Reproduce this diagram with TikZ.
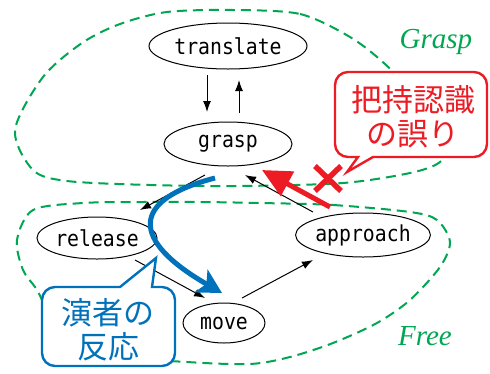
\documentclass[tikz,border=0pt]{standalone}
\usepackage{fontspec}
\setmainfont{Liberation Serif}
\newfontfamily\statefont[FakeStretch=0.9]{DejaVu Sans Mono}
\newfontfamily\jpfont{Noto Sans CJK JP}
\usepackage{tikz}
\usetikzlibrary{arrows.meta, shapes.geometric}

\definecolor{zonegreen}{RGB}{0,166,81}
\definecolor{callred}{RGB}{237,28,36}
\definecolor{callblue}{RGB}{0,114,188}

\tikzset{
  state/.style={draw, ellipse, fill=white, line width=1pt, inner sep=0pt,
    font=\statefont\fontsize{22}{22}\selectfont},
  link/.style={-{Latex[length=11pt,width=8pt]}, line width=1pt},
  zone/.style={zonegreen, dash pattern=on 10pt off 6pt, line width=2pt},
  zonelabel/.style={zonegreen, font=\itshape\fontsize{29}{29}\selectfont},
  bubbletext/.style={align=center, font=\jpfont\fontsize{31}{34}\selectfont},
}

\begin{document}
\begin{tikzpicture}[x=1pt, y=-1pt]
\useasboundingbox (0,0) rectangle (490,373);

% the two regions
\draw [zone] plot [smooth cycle] coordinates {(233,10) (300,14) (350,37) (385,64) (425,105)
  (450,140) (440,162) (410,173) (343,183) (240,186) (150,185) (67,181) (33,170) (15,130)
  (43,77) (82,43) (120,24) (167,12)};
\draw [zone] plot [smooth cycle] coordinates {(260,203) (333,205) (410,212) (437,220) (450,242)
  (440,267) (410,300) (377,323) (333,343) (290,357) (250,364) (187,362) (110,355) (60,330)
  (37,290) (23,270) (17,240) (33,210) (83,203) (143,202) (200,202)};
\node [zonelabel] (grasplabel) at (436,42) {Grasp};
\node [zonelabel] (freelabel) at (425,336) {Free};

% states
\node [state, minimum width=158pt, minimum height=46pt] (translate) at (228,46) {translate};
\node [state, minimum width=128pt, minimum height=44pt] (grasp) at (228,144) {grasp};
\node [state, minimum width=120pt, minimum height=42pt] (release) at (97,238) {release};
\node [state, minimum width=134pt, minimum height=44pt] (approach) at (363,235) {approach};
\node [state, minimum width=82pt, minimum height=40pt] (move) at (224,323) {move};

\draw [link] ([shift={(-21,29)}]translate.center) -- ([shift={(-21,-32)}]grasp.center);
\draw [link] ([shift={(11,-31)}]grasp.center) -- ([shift={(11,34)}]translate.center);
\draw [link] ([shift={(-23,31)}]grasp.center) -- ([shift={(43,-28)}]release.center);
\draw [link] ([shift={(-50,-23)}]approach.center) -- ([shift={(17,31)}]grasp.center);
\draw [link] ([shift={(38,22)}]release.center) -- ([shift={(-19,-25)}]move.center);
\draw [link] ([shift={(18,-25)}]move.center) -- ([shift={(-50,25)}]approach.center);

% misrecognition
\draw [callred, line width=5pt, -{Triangle[length=29pt,width=27pt]}]
  ([shift={(-33,-28)}]approach.center) -- ([shift={(34,26)}]grasp.center);
\draw [callred, line width=5.5pt] (315,166) -- (341,191) (315,191) -- (341,166);
\draw [callred, line width=2.4pt, fill=white, rounded corners=13pt]
  (358,157) [sharp corners] -- (347,172) -- (373,157) [rounded corners=13pt]
  -- (487,157) -- (487,72) -- (335,72) -- (335,157) [sharp corners] -- cycle;
\node [bubbletext, callred] (misgrasp) at (413,117) {把持認識\\の誤り};

% reaction
\draw [callblue, line width=5pt, -{Stealth[length=24pt,width=26pt,inset=6pt]}]
  ([shift={(-13,34)}]grasp.center) .. controls +(-85,22) and +(-92,-53) .. ([shift={(-2,-30)}]move.center);
\draw [callblue, line width=2.4pt, fill=white, rounded corners=13pt]
  (120,287) [sharp corners] -- (156,258) -- (152,287) [rounded corners=13pt]
  -- (175,287) -- (175,366) -- (42,366) -- (42,287) [sharp corners] -- cycle;
\node [bubbletext, callblue] (reaction) at (108,330) {演者の\\反応};
\end{tikzpicture}
\end{document}
